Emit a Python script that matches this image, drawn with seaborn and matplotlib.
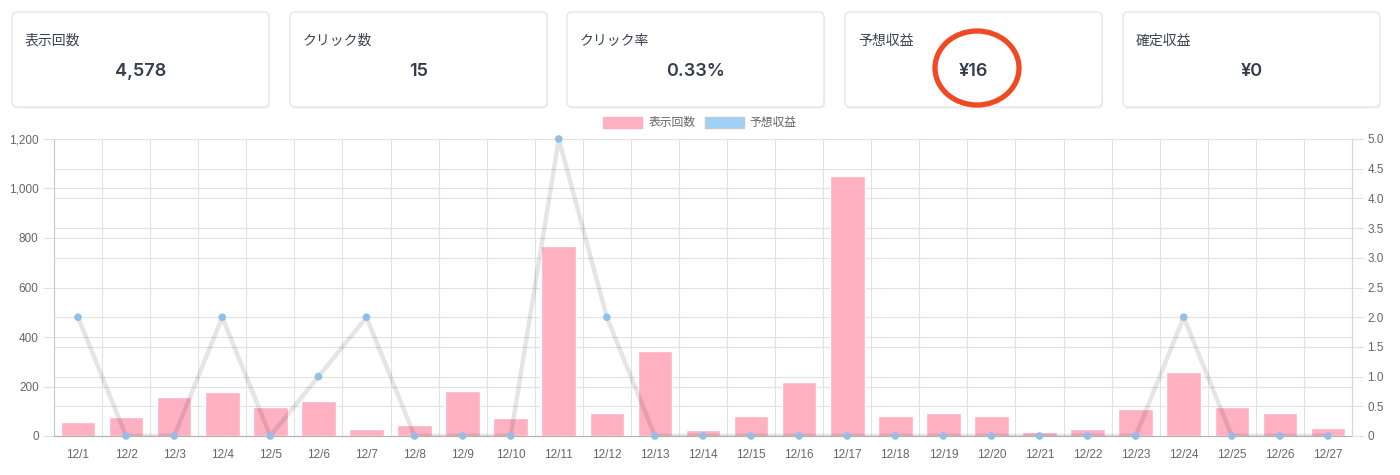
import numpy as np
import pandas as pd
import seaborn as sns
import matplotlib.pyplot as plt
from matplotlib.patches import FancyBboxPatch, Patch, Ellipse
from matplotlib.ticker import FuncFormatter

# データ
dates = [f"12/{d}" for d in range(1, 28)]
impressions = [56, 77, 157, 178, 118, 142, 29, 45, 183, 74, 768, 93, 342, 26, 82,
               220, 1050, 79, 92, 81, 16, 28, 110, 259, 117, 93, 31]
revenue = [2, 0, 0, 2, 0, 1, 2, 0, 0, 0, 5, 2, 0, 0, 0,
           0, 0, 0, 0, 0, 0, 0, 0, 2, 0, 0, 0]
left_ticks = [0, 200, 400, 600, 800, 1000, 1200]
right_ticks = [0, 0.5, 1.0, 1.5, 2.0, 2.5, 3.0, 3.5, 4.0, 4.5, 5.0]
card_titles = ["表示回数", "クリック数", "クリック率", "予想収益", "確定収益"]
card_values = ["4,578", "15", "0.33%", "¥16", "¥0"]
legend_labels = ["表示回数", "予想収益"]

sns.set_style("white")
plt.rcParams["font.family"] = ["Liberation Sans", "Noto Sans CJK JP"]

W, H = 1400, 475
fig = plt.figure(figsize=(14, 4.75), dpi=100)

# カード部分 (ピクセル座標のオーバーレイ)
overlay = fig.add_axes([0, 0, 1, 1])
overlay.set_xlim(0, W)
overlay.set_ylim(H, 0)
overlay.axis("off")

card_w, card_h, card_top = 257, 95, 12
card_lefts = [12, 290, 567, 845, 1123]
for left, title, value in zip(card_lefts, card_titles, card_values):
    shadow = FancyBboxPatch((left + 1, card_top + 1.5), card_w, card_h,
                            boxstyle="round,pad=0,rounding_size=5",
                            fc="#f0f0f0", ec="none", zorder=1)
    box = FancyBboxPatch((left, card_top), card_w, card_h,
                         boxstyle="round,pad=0,rounding_size=5",
                         fc="white", ec="#e6e6e6", lw=1, zorder=2)
    overlay.add_patch(shadow)
    overlay.add_patch(box)
    overlay.text(left + 13, 41, title, fontsize=10, color="#3c4350",
                 va="center", ha="left", family=["Noto Sans CJK JP"], zorder=3)
    overlay.text(left + card_w / 2, 72, value, fontsize=13, color="#333d4d",
                 va="center", ha="center", fontweight="semibold",
                 family=["Inter", "Noto Sans CJK JP"], zorder=3)

# 予想収益の赤丸
overlay.add_patch(Ellipse((977, 68), 84, 74, fill=False, ec="#f04a23", lw=3.8, zorder=4))

# メインチャート
ax = fig.add_axes([54 / W, 39 / H, 1298 / W, 297 / H])
ax.set_facecolor("none")
sns.barplot(x=dates, y=impressions, color="#ffb1c1", saturation=1, width=0.72,
            ax=ax, zorder=3)
ax.set_ylim(0, 1200)
ax.set_xlim(-0.5, len(dates) - 0.5)
ax.set_yticks(left_ticks)
ax.yaxis.set_major_formatter(FuncFormatter(lambda v, p: f"{int(v):,}"))
ax.set_xlabel("")
ax.set_ylabel("")

grid_c = "#e2e2e2"
ax.set_xticks(np.arange(len(dates)) - 0.5, minor=True)
ax.grid(which="minor", axis="x", color=grid_c, lw=0.8, zorder=0)
ax.grid(which="major", axis="y", color=grid_c, lw=0.8, zorder=0)
# 右軸のグリッド線
scale = 1200 / 5.0
for v in right_ticks[1:]:
    ax.axhline(v * scale, color=grid_c, lw=0.8, zorder=0)

ax.tick_params(axis="x", which="major", length=0, pad=9, labelsize=8.5, labelcolor="#666666")
ax.tick_params(axis="x", which="minor", length=8, color=grid_c, width=0.8)
ax.tick_params(axis="y", length=8, color=grid_c, width=0.8, labelsize=8.5,
               labelcolor="#666666", pad=3, left=True)
ax.spines["top"].set_visible(False)
ax.spines["left"].set_color("#c8c8c8")
ax.spines["bottom"].set_color("#b0b0b0")
ax.spines["right"].set_color("#d8d8d8")
ax.spines["bottom"].set_zorder(5)

ax2 = ax.twinx()
sns.lineplot(x=np.arange(len(dates)), y=revenue, ax=ax2, color="black", alpha=0.1,
             lw=3.2, zorder=4)
sns.scatterplot(x=np.arange(len(dates)), y=revenue, ax=ax2, color="#93bfe6",
                s=30, edgecolor="none", zorder=5, clip_on=False)
ax2.set_ylim(0, 5)
ax2.set_yticks(right_ticks)
ax2.yaxis.set_major_formatter(FuncFormatter(lambda v, p: "0" if v == 0 else f"{v:.1f}"))
ax2.tick_params(axis="y", length=8, color=grid_c, width=0.8, labelsize=8.5,
                labelcolor="#666666", pad=3, right=True)
ax2.set_ylabel("")
for side in ["top", "left", "bottom"]:
    ax2.spines[side].set_visible(False)
ax2.spines["right"].set_color("#d8d8d8")

# 凡例
handles = [Patch(fc="#ffb1c1", ec="#ffb1c1"),
           Patch(fc="#9fd0f5", ec="#c0c8d0", lw=1)]
leg = fig.legend(handles, legend_labels, loc="center", ncol=2,
                 bbox_to_anchor=(0.5, (H - 123) / H), frameon=False,
                 fontsize=8.5, handlelength=3.3, handleheight=1.1,
                 handletextpad=0.5, columnspacing=0.8)
for t in leg.get_texts():
    t.set_color("#666666")

fig.savefig("out.png", dpi=100)
